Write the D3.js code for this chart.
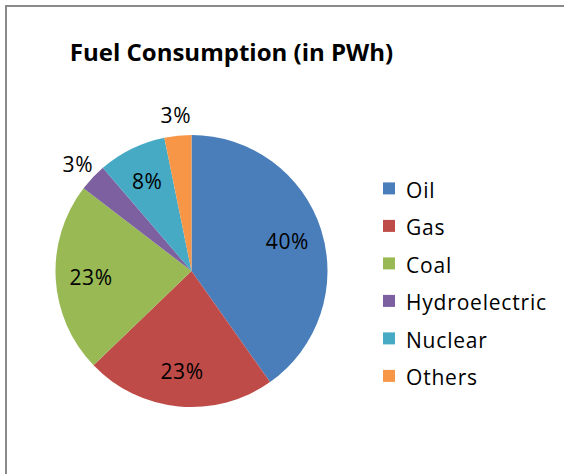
<!DOCTYPE html>
<html>
<head>
<meta charset="utf-8">
<script src="https://cdn.jsdelivr.net/npm/d3@7"></script>
<style>
  body { margin: 0; background: #fff; }
  svg { display: block; font-family: 'Open Sans', sans-serif; }
</style>
</head>
<body>
<main></main>
<script>
// chart values (share of consumption)
const categories = ['Oil', 'Gas', 'Coal', 'Hydroelectric', 'Nuclear', 'Others']
const values = [40.2, 22.6, 22.6, 3.3, 8.1, 3.2]
const colours = ['#4a7ebb', '#be4b48', '#98b954', '#7d60a0', '#46aac5', '#f79646']
const title = 'Fuel Consumption (in PWh)'

const width = 564
const height = 474
const cx = 191.5
const cy = 271
const radius = 136

const svg = d3.select('main')
  .append('svg')
  .attr('width', width)
  .attr('height', height)

// chart area border (only top and left edges are in view)
svg.append('line')
  .attr('x1', 5).attr('y1', 6).attr('x2', width).attr('y2', 6)
  .style('stroke', '#8a8a8a').style('stroke-width', 2)
svg.append('line')
  .attr('x1', 6).attr('y1', 5).attr('x2', 6).attr('y2', height)
  .style('stroke', '#8a8a8a').style('stroke-width', 2)

svg.append('text')
  .attr('x', 231.5)
  .attr('y', 61)
  .attr('text-anchor', 'middle')
  .style('font-size', '24px')
  .style('font-weight', 'bold')
  .style('fill', '#000')
  .text(title)

const total = d3.sum(values)
const colour = d3.scaleOrdinal().domain(categories).range(colours)

const pie = d3.pie().sort(null).value(d => d.value)
const slices = pie(categories.map((c, i) => ({ name: c, value: values[i] })))
const arc = d3.arc().innerRadius(0).outerRadius(radius)

const g = svg.append('g')
  .attr('transform', 'translate(' + cx + ',' + cy + ')')

g.selectAll('path')
  .data(slices)
  .enter()
  .append('path')
  .attr('d', arc)
  .style('fill', d => colour(d.data.name))

// small slices get their label outside the pie
g.selectAll('text')
  .data(slices)
  .enter()
  .append('text')
  .attr('transform', function (d) {
    const share = d.data.value / total
    const r = share < 0.05 ? radius * 1.15 : radius * 0.74
    const a = (d.startAngle + d.endAngle) / 2
    return 'translate(' + (Math.sin(a) * r) + ',' + (-Math.cos(a) * r) + ')'
  })
  .attr('text-anchor', 'middle')
  .attr('dominant-baseline', 'central')
  .style('font-size', '21px')
  .style('letter-spacing', '0.6px')
  .style('fill', '#000')
  .text(d => Math.round(d.data.value / total * 100) + '%')

// legend
const legend = svg.append('g')
  .attr('transform', 'translate(383,188.4)')

const item = legend.selectAll('g')
  .data(categories)
  .enter()
  .append('g')
  .attr('transform', (d, i) => 'translate(0,' + (i * 37.5) + ')')

item.append('rect')
  .attr('x', 0)
  .attr('y', -6)
  .attr('width', 12)
  .attr('height', 12)
  .style('fill', d => colour(d))

item.append('text')
  .attr('x', 23)
  .attr('y', 9.5)
  .style('font-size', '21px')
  .style('letter-spacing', '0.8px')
  .style('fill', '#000')
  .text(d => d)
</script>
</body>
</html>
